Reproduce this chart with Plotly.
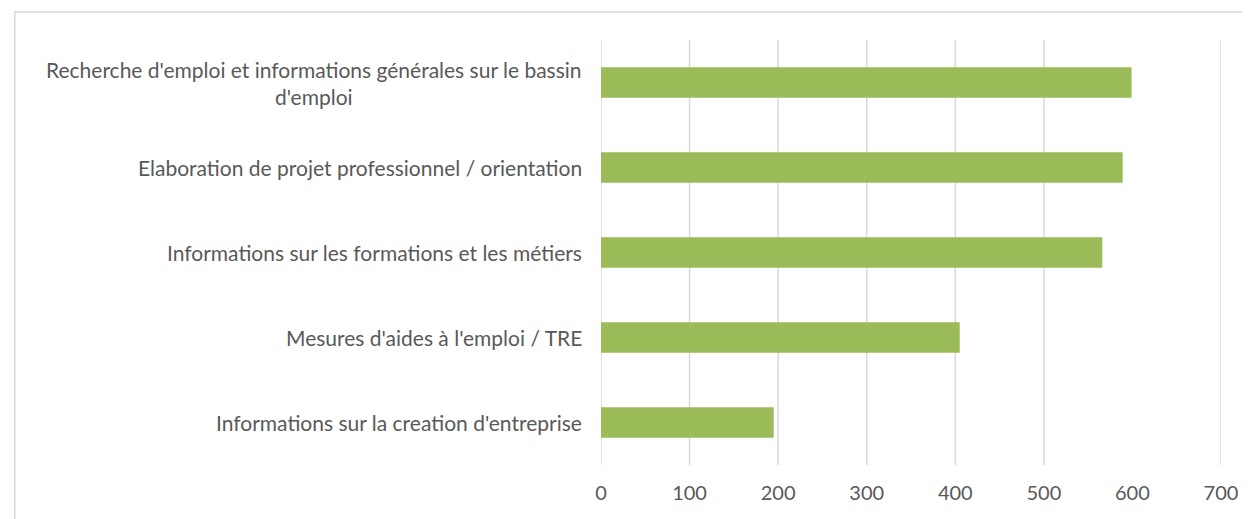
import plotly.graph_objects as go

categories = [
    "Recherche d'emploi et informations générales sur le bassin<br>d'emploi",
    "Elaboration de projet professionnel / orientation",
    "Informations sur les formations et les métiers",
    "Mesures d'aides à l'emploi / TRE",
    "Informations sur la creation d'entreprise",
]
values = [599, 589, 566, 405, 195]
x_ticks = [0, 100, 200, 300, 400, 500, 600, 700]
grid_vals = [0, 100, 200, 300, 400, 500, 700]

OFF = 8  # page body margin
W, H = 1250 - OFF, 519 - OFF
L, R, T, B = 601 - OFF, 25, 40 - OFF, 54
pw, ph = W - L - R, H - T - B

fig = go.Figure(go.Bar(
    x=values, y=list(range(len(categories))), orientation="h",
    marker=dict(color="#9BBB59", line=dict(width=0)), width=0.36,
))

font_family = "Lato, 'Open Sans', sans-serif"
for i, c in enumerate(categories):
    fig.add_annotation(
        x=0, xref="paper", y=i, yref="y", text=c, showarrow=False,
        xanchor="right", yanchor="middle", align="center", xshift=-17,
        font=dict(family=font_family, size=21, color="#595959"),
    )

for v in grid_vals:
    fig.add_shape(type="line", xref="x", yref="paper", x0=v, x1=v, y0=0, y1=1,
                  line=dict(color="#D9D9D9", width=1.5), layer="below")

# outer chart frame
fx = (11 - OFF - L) / pw
fy = 1 + (T - (12 - OFF)) / ph
fig.add_shape(type="rect", xref="paper", yref="paper", x0=fx, x1=1.2, y0=-0.5, y1=fy,
              line=dict(color="#D9D9D9", width=1.5), fillcolor="rgba(0,0,0,0)", layer="below")

fig.update_layout(
    width=W, height=H, margin=dict(l=L, r=R, t=T, b=B),
    paper_bgcolor="white", plot_bgcolor="white", showlegend=False,
    xaxis=dict(range=[0, 700], tickvals=x_ticks, showgrid=False, zeroline=False,
               showline=False, ticks="", ticklabelstandoff=14,
               tickfont=dict(family=font_family, size=20, color="#595959")),
    yaxis=dict(range=[len(categories) - 0.5, -0.5], showticklabels=False,
               showgrid=False, zeroline=False, showline=False, ticks=""),
)
fig.write_html("out.html")
